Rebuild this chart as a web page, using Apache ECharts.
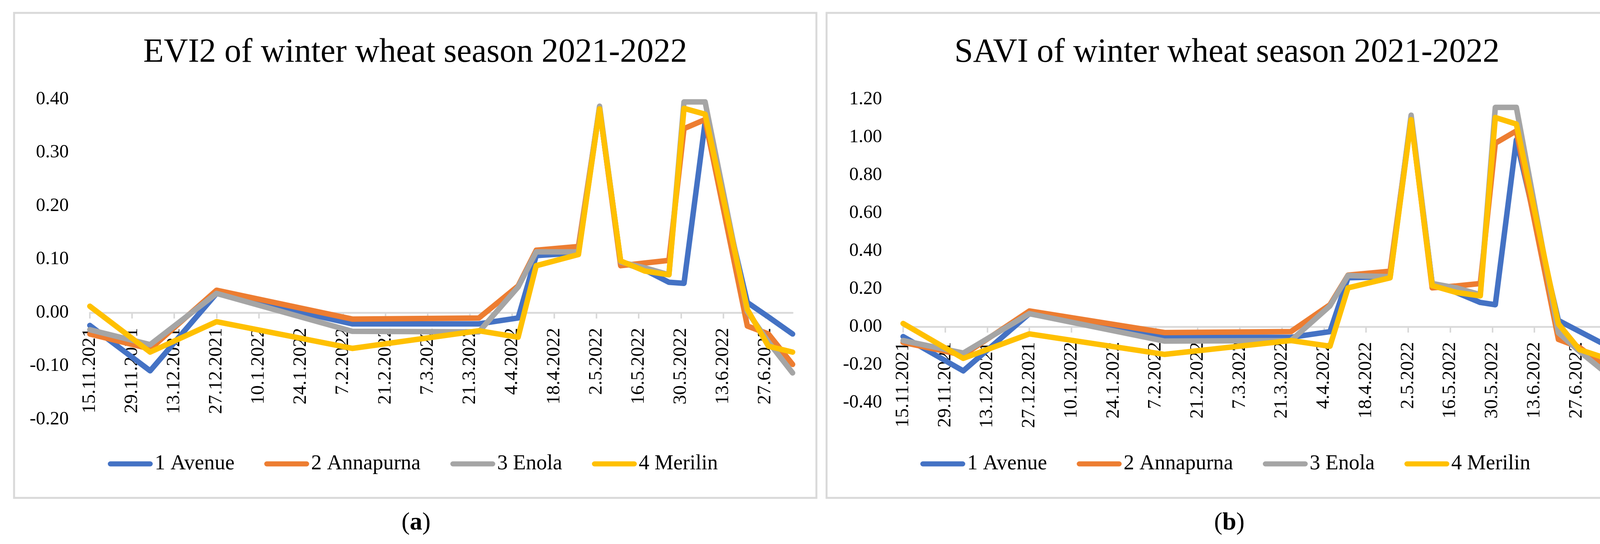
<!DOCTYPE html>
<html><head><meta charset="utf-8">
<script src="https://cdn.jsdelivr.net/npm/echarts@6/dist/echarts.min.js"></script>
<style>html,body{margin:0;padding:0;background:#fff}#c{width:4207px;height:1392px}</style>
</head><body><div id="c"></div>
<script>
// ---- data ----
const dates = ['15.11.2021','5.12.2021','27.12.2021','10.2.2022','24.3.2022','6.4.2022','12.4.2022','26.4.2022','3.5.2022','10.5.2022','18.5.2022','26.5.2022','31.5.2022','7.6.2022','21.6.2022','28.6.2022','6.7.2022'];
const tickLabels = ['15.11.2021','29.11.2021','13.12.2021','27.12.2021','10.1.2022','24.1.2022','7.2.2022','21.2.2022','7.3.2022','21.3.2022','4.4.2022','18.4.2022','2.5.2022','16.5.2022','30.5.2022','13.6.2022','27.6.2022'];
const seriesNames = ['1 Avenue','2 Annapurna','3 Enola','4 Merilin'];
const seriesColors = ['#4472C4','#ED7D31','#A5A5A5','#FFC000'];

const evi2Avenue    = [-0.024,-0.109,0.036,-0.021,-0.021,-0.010,0.107,0.112,0.383,0.095,0.080,0.057,0.055,0.357,0.019,-0.008,-0.040];
const evi2Annapurna = [-0.040,-0.068,0.042,-0.012,-0.010,0.050,0.117,0.124,0.384,0.088,0.093,0.098,0.345,0.362,-0.025,-0.040,-0.097];
const evi2Enola     = [-0.032,-0.060,0.036,-0.035,-0.036,0.048,0.114,0.114,0.387,0.095,0.084,0.071,0.395,0.395,0.002,-0.055,-0.113];
const evi2Merilin   = [0.012,-0.074,-0.017,-0.067,-0.034,-0.046,0.088,0.109,0.382,0.097,0.078,0.071,0.383,0.372,0.006,-0.063,-0.074];

const saviAvenue    = [-0.052,-0.233,0.069,-0.056,-0.056,-0.026,0.258,0.264,1.098,0.228,0.181,0.128,0.116,0.986,0.033,-0.025,-0.091];
const saviAnnapurna = [-0.083,-0.150,0.083,-0.031,-0.026,0.116,0.272,0.293,1.100,0.205,0.215,0.228,0.968,1.033,-0.067,-0.109,-0.204];
const saviEnola     = [-0.073,-0.139,0.069,-0.076,-0.073,0.110,0.270,0.264,1.116,0.228,0.205,0.169,1.157,1.157,-0.032,-0.130,-0.233];
const saviMerilin   = [0.017,-0.167,-0.038,-0.146,-0.073,-0.103,0.205,0.258,1.092,0.217,0.181,0.163,1.104,1.069,0.015,-0.121,-0.162];

const titles = ['EVI2 of winter wheat season 2021-2022','SAVI of winter wheat season 2021-2022'];
const panelLabels = ['a','b'];

// ---- helpers ----
const FONT = "'Liberation Serif','Times New Roman',serif";
function toDay(s){const p=s.split('.').map(Number);return (Date.UTC(p[2],p[1]-1,p[0])-Date.UTC(2021,10,15))/86400000;}
const days = dates.map(toDay);
const tickDays = tickLabels.map(toDay);
function labelFor(v){const i=tickDays.indexOf(Math.round(v));return i>=0?tickLabels[i]:'';}

const panels = [
  {vals:[evi2Avenue,evi2Annapurna,evi2Enola,evi2Merilin], min:-0.2, max:0.4, interval:0.1,
   grid:{left:230, top:254, width:1799, height:819}, box:[36,33,2054,1241], cx:1063, legendLeft:276, labelCx:1065},
  {vals:[saviAvenue,saviAnnapurna,saviEnola,saviMerilin], min:-0.4, max:1.2, interval:0.2,
   grid:{left:2312, top:254, width:1793, height:776}, box:[2116,33,2049,1241], cx:3141, legendLeft:2356, labelCx:3147}
];

const option = {
  animation:false,
  backgroundColor:'#fff',
  grid: panels.map(p=>Object.assign({containLabel:false}, p.grid)),
  xAxis: panels.map((p,k)=>({
    type:'value', gridIndex:k, min:days[0], max:days[days.length-1], interval:14,
    position:'bottom',
    // place the axis (line, ticks, labels) at y = 0, as in the reference
    offset: -Math.round((0 - p.min) / (p.max - p.min) * p.grid.height),
    axisLine:{show:true, onZero:false, lineStyle:{color:'#D9D9D9', width:4.5}},
    axisTick:{show:true, length:15, customValues:tickDays, lineStyle:{color:'#D9D9D9', width:4}},
    axisLabel:{rotate:90, margin:39, fontSize:49, fontFamily:FONT, color:'#000', customValues:tickDays, formatter:labelFor},
    splitLine:{show:false}
  })),
  yAxis: panels.map((p,k)=>({
    type:'value', gridIndex:k, min:p.min, max:p.max, interval:p.interval,
    axisLine:{show:false}, axisTick:{show:false}, splitLine:{show:false},
    axisLabel:{margin:54, fontSize:48, fontFamily:FONT, color:'#000', formatter:v=>v.toFixed(2)}
  })),
  legend: panels.map(p=>({
    data:seriesNames, left:p.legendLeft, top:1157, orient:'horizontal',
    itemWidth:115, itemHeight:13, itemGap:76, padding:0,
    icon:'path://M6.5,0 L108.5,0 A6.5,6.5 0 0 1 108.5,13 L6.5,13 A6.5,6.5 0 0 1 6.5,0 Z',
    itemStyle:{borderWidth:0},
    textStyle:{fontSize:54, fontFamily:FONT, color:'#000', lineHeight:60}
  })),
  series: [],
  graphic: []
};

panels.forEach((p,k)=>{
  p.vals.forEach((arr,i)=>{
    option.series.push({
      type:'line', name:seriesNames[i], xAxisIndex:k, yAxisIndex:k,
      data: days.map((d,j)=>[d, arr[j]]),
      symbol:'none', showSymbol:false, smooth:false,
      itemStyle:{color:seriesColors[i]},
      lineStyle:{color:seriesColors[i], width:14, cap:'round', join:'round'},
      emphasis:{disabled:true}
    });
  });
  option.graphic.push({type:'rect', shape:{x:p.box[0], y:p.box[1], width:p.box[2], height:p.box[3]},
    style:{fill:'none', stroke:'#D9D9D9', lineWidth:5}, silent:true});
  option.graphic.push({type:'text', x:p.cx, y:135,
    style:{text:titles[k], fontSize:86, fontFamily:FONT, fill:'#000', textAlign:'center', textVerticalAlign:'middle'}});
  option.graphic.push({type:'text', x:p.labelCx, y:1338,
    style:{rich:{b:{fontWeight:'bold', fontSize:64, fontFamily:FONT, fill:'#000'}, n:{fontSize:64, fontFamily:FONT, fill:'#000'}},
      text:'{n|(}{b|'+panelLabels[k]+'}{n|)}', textAlign:'center', textVerticalAlign:'middle'}});
});

const chart = echarts.init(document.getElementById('c'), null, {renderer:'canvas', width:4207, height:1392});
chart.setOption(option);
</script>
</body></html>
